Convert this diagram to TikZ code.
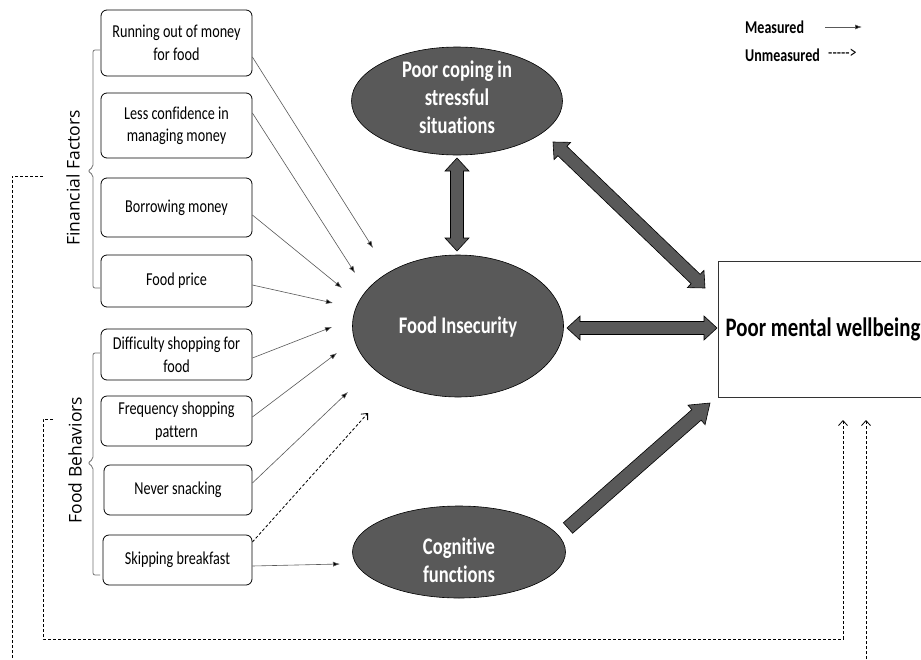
\documentclass[tikz,border=0pt]{standalone}
\usepackage{fontspec}
\setmainfont[Ligatures=NoCommon, FakeStretch=0.78]{Carlito}
\newfontfamily\labfont{Open Sans}
\usetikzlibrary{arrows.meta,calc,shapes.geometric}
\definecolor{ellgray}{HTML}{595959}
\newcommand\fatdbl[2]{%
 \filldraw[fatarrow] (#1)
 -- ($(#1)!13pt!(#2)!12pt!90:(#2)$) -- ($(#1)!13pt!(#2)!6.5pt!90:(#2)$)
 -- ($(#2)!13pt!(#1)!6.5pt!-90:(#1)$) -- ($(#2)!13pt!(#1)!12pt!-90:(#1)$)
 -- (#2)
 -- ($(#2)!13pt!(#1)!12pt!90:(#1)$) -- ($(#2)!13pt!(#1)!6.5pt!90:(#1)$)
 -- ($(#1)!13pt!(#2)!6.5pt!-90:(#2)$) -- ($(#1)!13pt!(#2)!12pt!-90:(#2)$)
 -- cycle;}
\newcommand\fatsgl[2]{%
 \filldraw[fatarrow] ($(#1)!7pt!90:(#2)$)
 -- ($(#2)!18pt!(#1)!7pt!-90:(#1)$) -- ($(#2)!18pt!(#1)!13pt!-90:(#1)$)
 -- (#2)
 -- ($(#2)!18pt!(#1)!13pt!90:(#1)$) -- ($(#2)!18pt!(#1)!7pt!90:(#1)$)
 -- ($(#1)!7pt!-90:(#2)$) -- cycle;}
\begin{document}
\begin{tikzpicture}[x=1pt,y=-1pt,
 box/.style={draw, rounded corners=6pt, line width=0.8pt, align=center,
   font=\fontsize{18.2}{22.5}\selectfont, inner sep=0pt},
 ell/.style={ellipse, draw=black, line width=0.6pt, fill=ellgray, inner sep=0pt},
 elltext/.style={text=white, align=center, inner sep=0pt, font=\bfseries\fontsize{23.8}{28}\selectfont},
 fatarrow/.style={fill=ellgray, draw=black, line width=0.6pt, line join=miter},
 thinarr/.style={draw=black!65, line width=0.6pt, -{Latex[length=7pt,width=5pt,fill=black]}},
 dashln/.style={draw=black, line width=0.8pt, dash pattern=on 3pt off 2pt},
 bracestyle/.style={draw=black!55, line width=0.8pt, rounded corners=2pt},
 grp/.style={font=\labfont\fontsize{17.5}{20}\selectfont, rotate=90}]
\clip (0,0) rectangle (921,659);
\fill[white] (0,0) rectangle (921,659);

% left boxes
\node[box, minimum width=151, minimum height=66] (b1) at (176.5,43) {Running out of money\\for food};
\node[box, minimum width=151, minimum height=65] (b2) at (176.5,125.5) {Less confidence in\\managing money};
\node[box, minimum width=151, minimum height=59] (b3) at (176.5,207.5) {Borrowing money};
\node[box, minimum width=151, minimum height=52] (b4) at (176.5,281) {Food price};
\node[box, minimum width=151, minimum height=51] (b5) at (176.5,354.5) {Difficulty shopping for\\food};
\node[box, minimum width=151, minimum height=50] (b6) at (176.5,421) {Frequency shopping\\pattern};
\node[box, minimum width=148, minimum height=50] (b7) at (178,490) {Never snacking};
\node[box, minimum width=149, minimum height=50] (b8) at (177.5,560) {Skipping breakfast};

% braces and group labels
\draw[bracestyle] (100,50) -- (93,50) -- (93,167) -- (88,171) -- (93,175) -- (93,288) -- (100,288);
\draw[bracestyle] (100,353) -- (93,353) -- (93,459) -- (88,463) -- (93,467) -- (93,575) -- (100,575);
\node[grp] (ffl) at (73,178) {Financial Factors};
\node[grp] (fbl) at (75,460) {Food Behaviors};

% ellipses
\node[ell, minimum width=211, minimum height=108] (cope) at (457,101) {};
\node[elltext] (copet) at (457,97) {Poor coping in\\stressful\\situations};
\node[ell, minimum width=211, minimum height=142] (fi) at (458,326) {};
\node[elltext] (fit) at (458,327) {Food Insecurity};
\node[ell, minimum width=213, minimum height=92] (cog) at (459,552) {};
\node[elltext] (cogt) at (459,560) {Cognitive\\functions};

% outcome box
\node[draw=black!80, line width=0.8pt, minimum width=210, minimum height=136, inner sep=0pt,
  font=\bfseries\fontsize{26.7}{30}\selectfont] (mw) at (823,329) {Poor mental wellbeing};

% thick arrows
\coordinate (v1) at (457,158); \coordinate (v2) at (457,251);
\coordinate (d1) at (553,142); \coordinate (d2) at (705,288);
\coordinate (h1) at (567,328); \coordinate (h2) at (717,328);
\coordinate (c1) at (568,528); \coordinate (c2) at (710,403);
\fatdbl{v1}{v2}
\fatdbl{d1}{d2}
\fatdbl{h1}{h2}
\fatsgl{c1}{c2}

% thin arrows to food insecurity
\coordinate (t1) at (373,248);
\coordinate (t2) at (355,273);
\coordinate (t3) at (342,288);
\coordinate (t4) at (333,303);
\coordinate (t5) at (332,327);
\coordinate (t6) at (337,353);
\coordinate (t7) at (348,392);
\coordinate (t8) at (368,413);
\coordinate (t9) at (340,564);
\draw[thinarr] ($(b1.east)+(0,14)$) -- (t1);
\draw[thinarr] ($(b2.east)+(0,-12.5)$) -- (t2);
\draw[thinarr] ($(b3.east)+(0,7.5)$) -- (t3);
\draw[thinarr] ($(b4.east)+(0,4)$) -- (t4);
\draw[thinarr] ($(b5.east)+(0,3.5)$) -- (t5);
\draw[thinarr] ($(b6.east)+(0,-4)$) -- (t6);
\draw[thinarr] ($(b7.east)+(0,-7)$) -- (t7);
\draw[dashln, -{Straight Barb[length=5pt,width=9pt]}] ($(b8.east)+(0,-18)$) -- (t8);
\draw[thinarr] ($(b8.east)+(0,6)$) -- (t9);

% unmeasured long paths
\coordinate (o1) at (43,176); \coordinate (o2) at (866,420);
\coordinate (i1) at (53,419); \coordinate (i2) at (843,420);
\draw[dashln, -{Straight Barb[length=5pt,width=9pt]}] (o1) -- (12,176) -- (12,700) -- (866,700) -- (o2);
\draw[dashln, -{Straight Barb[length=5pt,width=9pt]}] (i1) -- (43,419) -- (43,639) -- (843,639) -- (i2);

% legend
\node[anchor=west, inner sep=0pt, font=\bfseries\fontsize{18}{20}\selectfont] (lm) at (745,27) {Measured};
\node[anchor=west, inner sep=0pt, font=\bfseries\fontsize{18}{20}\selectfont] (lu) at (745,55) {Unmeasured};
\coordinate (la1) at (825,27); \coordinate (la2) at (862,27);
\draw[thinarr] (la1) -- (la2);
\node[anchor=west, inner sep=0pt, font=\fontsize{18}{20}\selectfont] (ld) at (828,54) {-{}-{}-{}-{}->};
\end{tikzpicture}
\end{document}
